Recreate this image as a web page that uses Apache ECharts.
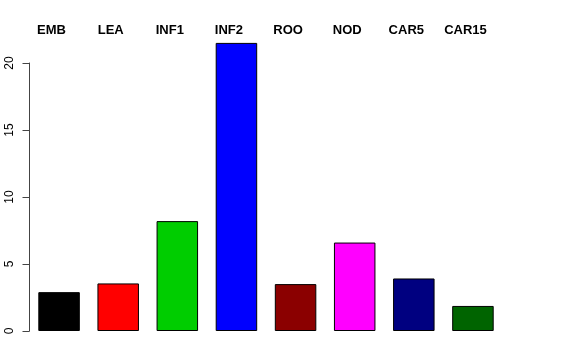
<!DOCTYPE html>
<html><head><meta charset="utf-8">
<script src="https://cdn.jsdelivr.net/npm/echarts@6/dist/echarts.min.js"></script>
<style>html,body{margin:0;padding:0;background:#fff}#c{width:576px;height:360px}</style>
</head><body><div id="c"></div>
<script>
const categories = ["EMB","LEA","INF1","INF2","ROO","NOD","CAR5","CAR15"];
const values = [2.9, 3.55, 8.2, 21.5, 3.5, 6.6, 3.92, 1.87];
const colors = ["#000000","#FF0000","#00CD00","#0000FF","#8B0000","#FF00FF","#000080","#006400"];
const yTicks = [0, 5, 10, 15, 20];

const chart = echarts.init(document.getElementById('c'), null, {renderer:'canvas'});
chart.setOption({
  animation:false,
  backgroundColor:'#fff',
  grid:{left:29.5, top:63, width:473, bottom:29, containLabel:false},
  xAxis:{
    type:'category', data:categories, position:'top',
    axisLine:{show:false}, axisTick:{show:false},
    axisLabel:{margin:26, fontFamily:'Liberation Sans, Arial, sans-serif', fontWeight:'bold', fontSize:13, color:'#000', padding:[0,15,0,0]}
  },
  yAxis:{
    type:'value', min:yTicks[0], max:yTicks[yTicks.length-1], interval:5,
    splitLine:{show:false},
    axisLine:{show:true, lineStyle:{color:'#444', width:1}},
    axisTick:{show:true, length:7, lineStyle:{color:'#444', width:1}},
    axisLabel:{rotate:90, margin:14, fontFamily:'Liberation Sans, Arial, sans-serif', fontSize:12, color:'#000'}
  },
  series:[{
    type:'bar', clip:false, barWidth:41.5,
    data: values.map((v,i)=>({value:v, itemStyle:{color:colors[i]}})),
    itemStyle:{borderColor:'#000', borderWidth:1}
  }]
});
</script></body></html>
